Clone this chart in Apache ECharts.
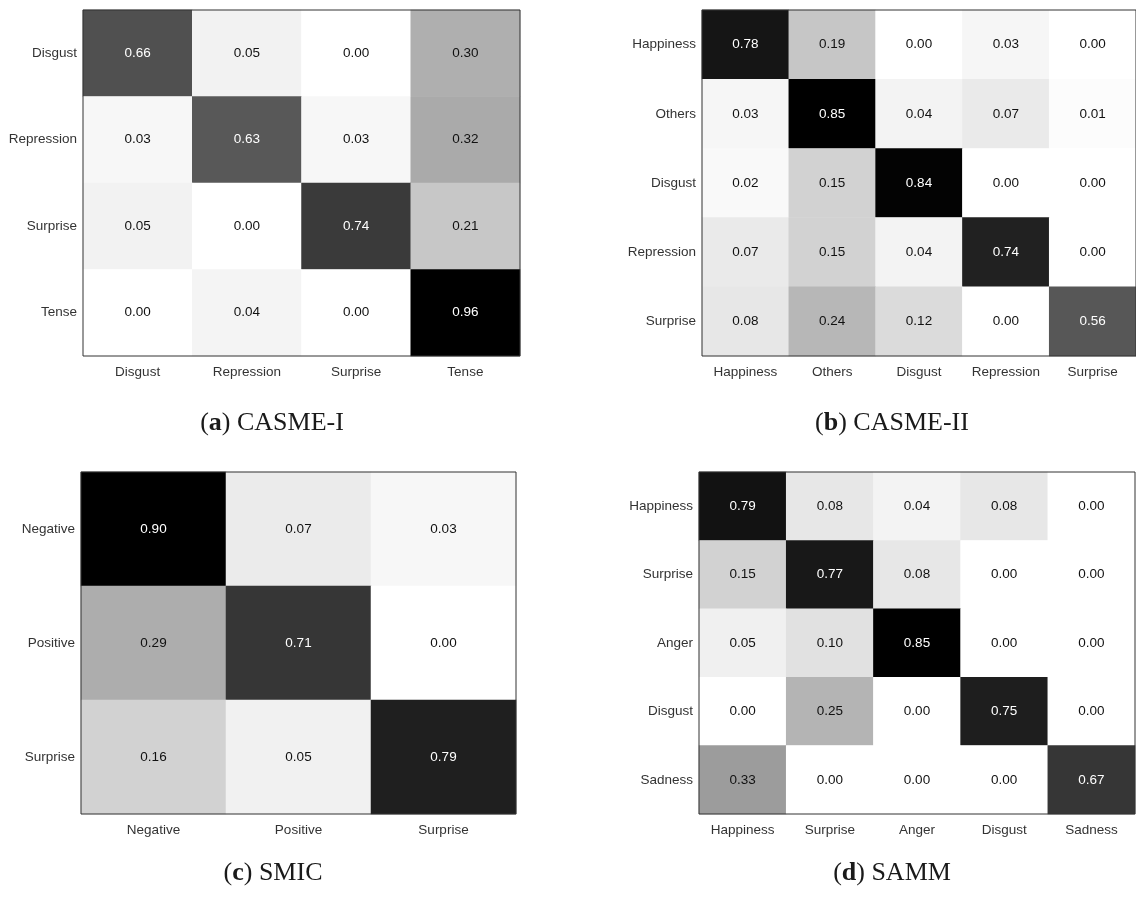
<!DOCTYPE html>
<html>
<head>
<meta charset="utf-8">
<title>Confusion matrices</title>
<script src="https://cdn.jsdelivr.net/npm/echarts@6/dist/echarts.min.js"></script>
<style>
  html, body { margin: 0; padding: 0; background: #ffffff; }
  #chart { width: 1136px; height: 900px; }
</style>
</head>
<body>
<div id="chart"></div>
<script>
// (a) CASME-I
const casme1Labels = ['Disgust', 'Repression', 'Surprise', 'Tense'];
const casme1Values = [
  [0.66, 0.05, 0.00, 0.30],
  [0.03, 0.63, 0.03, 0.32],
  [0.05, 0.00, 0.74, 0.21],
  [0.00, 0.04, 0.00, 0.96]
];

// (b) CASME-II
const casme2Labels = ['Happiness', 'Others', 'Disgust', 'Repression', 'Surprise'];
const casme2Values = [
  [0.78, 0.19, 0.00, 0.03, 0.00],
  [0.03, 0.85, 0.04, 0.07, 0.01],
  [0.02, 0.15, 0.84, 0.00, 0.00],
  [0.07, 0.15, 0.04, 0.74, 0.00],
  [0.08, 0.24, 0.12, 0.00, 0.56]
];

// (c) SMIC
const smicLabels = ['Negative', 'Positive', 'Surprise'];
const smicValues = [
  [0.90, 0.07, 0.03],
  [0.29, 0.71, 0.00],
  [0.16, 0.05, 0.79]
];

// (d) SAMM
const sammLabels = ['Happiness', 'Surprise', 'Anger', 'Disgust', 'Sadness'];
const sammValues = [
  [0.79, 0.08, 0.04, 0.08, 0.00],
  [0.15, 0.77, 0.08, 0.00, 0.00],
  [0.05, 0.10, 0.85, 0.00, 0.00],
  [0.00, 0.25, 0.00, 0.75, 0.00],
  [0.33, 0.00, 0.00, 0.00, 0.67]
];

const captionLetters = ['a', 'b', 'c', 'd'];
const captionNames = ['CASME-I', 'CASME-II', 'SMIC', 'SAMM'];

const panels = [
  { labels: casme1Labels, values: casme1Values, grid: { left: 83, top: 10, width: 437, height: 346 }, cap: { x: 272, y: 410 } },
  { labels: casme2Labels, values: casme2Values, grid: { left: 702, top: 10, right: -5, height: 346 }, cap: { x: 892, y: 410 } },
  { labels: smicLabels, values: smicValues, grid: { left: 81, top: 472, width: 435, height: 342 }, cap: { x: 273, y: 860 } },
  { labels: sammLabels, values: sammValues, grid: { left: 699, top: 472, width: 436, height: 342 }, cap: { x: 892, y: 860 } }
];

const labelFont = 'Liberation Sans, Arial, Helvetica, sans-serif';
const captionFont = 'Liberation Serif, Times New Roman, serif';

const grids = [], xAxes = [], yAxes = [], series = [], visualMaps = [], titles = [];

panels.forEach((p, i) => {
  const maxVal = Math.max(...p.values.flat());
  const data = [];
  p.values.forEach((row, r) => {
    row.forEach((v, c) => {
      data.push({
        value: [c, r, v],
        label: { color: v > maxVal / 2 ? '#ffffff' : '#111111' }
      });
    });
  });

  grids.push(Object.assign({
    show: true,
    z: 5,
    borderColor: '#333333',
    borderWidth: 1,
    backgroundColor: 'transparent'
  }, p.grid));

  xAxes.push({
    type: 'category',
    gridIndex: i,
    data: p.labels,
    axisLine: { show: false },
    axisTick: { show: false },
    splitLine: { show: false },
    axisLabel: { interval: 0, fontSize: 13.5, color: '#333333', fontFamily: labelFont, margin: 9 }
  });

  yAxes.push({
    type: 'category',
    gridIndex: i,
    data: p.labels,
    inverse: true,
    axisLine: { show: false },
    axisTick: { show: false },
    splitLine: { show: false },
    axisLabel: { interval: 0, fontSize: 13.5, color: '#333333', fontFamily: labelFont, margin: 6 }
  });

  visualMaps.push({
    type: 'continuous',
    show: false,
    seriesIndex: i,
    dimension: 2,
    min: 0,
    max: maxVal,
    inRange: { color: ['#ffffff', '#000000'] }
  });

  series.push({
    type: 'heatmap',
    xAxisIndex: i,
    yAxisIndex: i,
    data: data,
    label: {
      show: true,
      fontSize: 13.5,
      fontFamily: labelFont,
      formatter: (q) => q.value[2].toFixed(2)
    },
    itemStyle: { borderWidth: 0 },
    emphasis: { disabled: true }
  });

  titles.push({
    text: '{p|(}{b|' + captionLetters[i] + '}{p|) ' + captionNames[i] + '}',
    left: p.cap.x,
    top: p.cap.y,
    textAlign: 'center',
    padding: 0,
    textStyle: {
      fontWeight: 'normal',
      fontFamily: captionFont,
      fontSize: 26,
      rich: {
        p: { fontFamily: captionFont, fontSize: 26, fontWeight: 'normal', color: '#1a1a1a' },
        b: { fontFamily: captionFont, fontSize: 26, fontWeight: 'bold', color: '#1a1a1a' }
      }
    }
  });
});

const chart = echarts.init(document.getElementById('chart'), null, { renderer: 'canvas' });
chart.setOption({
  backgroundColor: '#ffffff',
  animation: false,
  title: titles,
  grid: grids,
  xAxis: xAxes,
  yAxis: yAxes,
  visualMap: visualMaps,
  series: series
});
</script>
</body>
</html>
